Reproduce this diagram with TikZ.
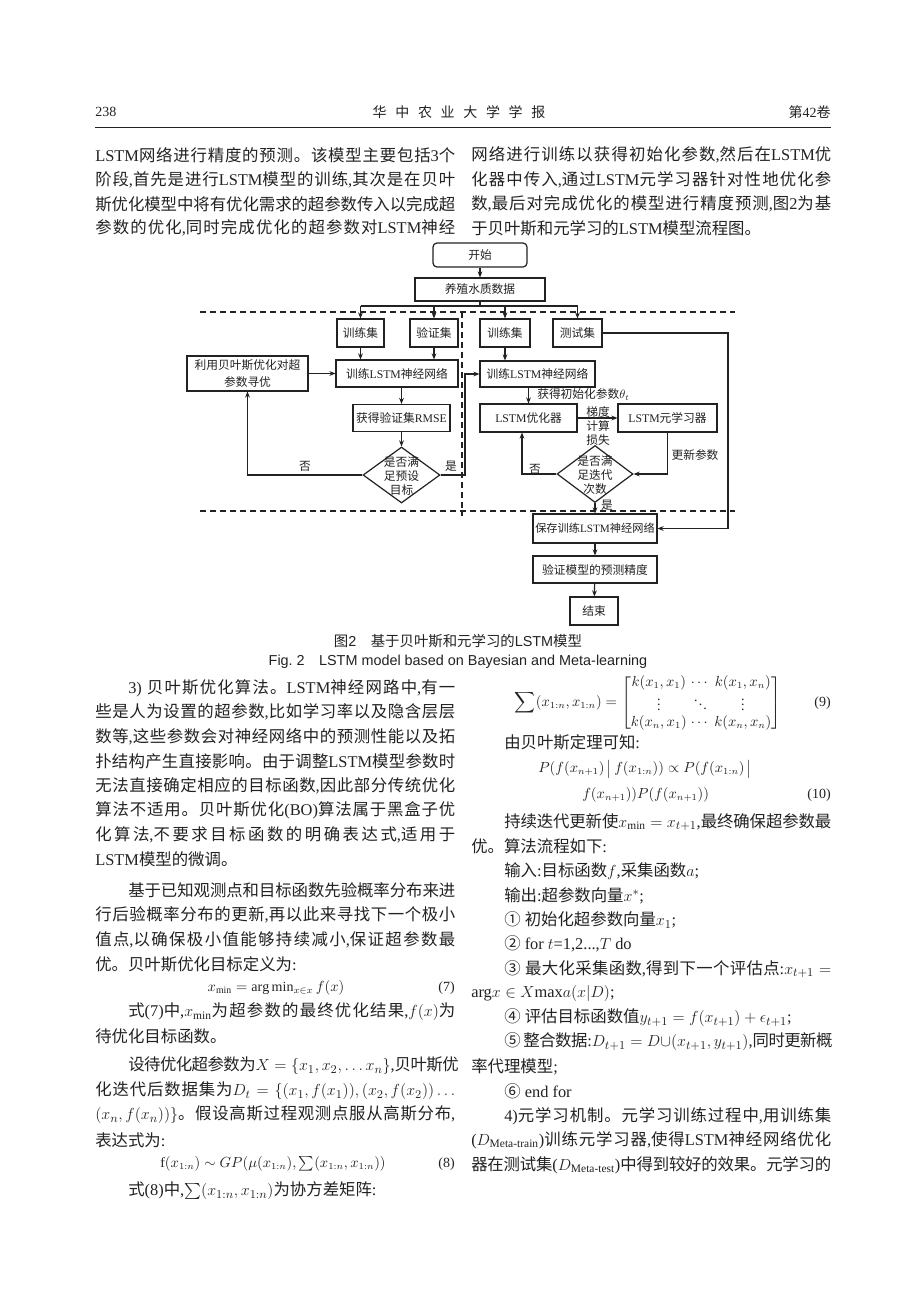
\documentclass[tikz,border=0pt]{standalone}
\usepackage{amsmath}
\usepackage{fontspec}
\setmainfont{Liberation Serif}
\setsansfont{Liberation Sans}
\newfontfamily\cjkfont{Noto Sans CJK SC}
\usetikzlibrary{arrows.meta,shapes.geometric}
% --- automatic CJK font switching via XeTeX character classes ---
\XeTeXinterchartokenstate=1
\newcount\cjkcnt
\newcommand\setcjkclass[2]{\cjkcnt=#1\relax
  \loop\XeTeXcharclass\cjkcnt=7\relax\advance\cjkcnt by 1\relax
  \ifnum\cjkcnt<#2\relax\repeat}
\setcjkclass{"4E00}{"A000}
\setcjkclass{"3000}{"3040}
\setcjkclass{"FF00}{"FFF0}
\setcjkclass{"2460}{"2500}
\def\curlat{\rmfamily}
\XeTeXinterchartoks 0 7 = {\cjkfont}
\XeTeXinterchartoks 1 7 = {\cjkfont}
\XeTeXinterchartoks 2 7 = {\cjkfont}
\XeTeXinterchartoks 3 7 = {\cjkfont}
\XeTeXinterchartoks 4095 7 = {\cjkfont}
\XeTeXinterchartoks 7 0 = {\curlat}
\XeTeXinterchartoks 7 1 = {\curlat}
\XeTeXinterchartoks 7 2 = {\curlat}
\XeTeXinterchartoks 7 3 = {\curlat}
\XeTeXinterchartoks 7 4095 = {\curlat}
\XeTeXinterchartoks 7 7 = {\hskip 0pt plus 2pt minus 0.4pt\relax}
% --- sizes ---
\newdimen\px \px=0.75pt
\newcommand\bodysize{\fontsize{12.3}{14}\selectfont}
\newcommand\flowsize{\fontsize{8.8}{12.75}\selectfont}
\newcommand\diasize{\fontsize{8.8}{10.5}\selectfont}
\newcommand\hdsize{\fontsize{10.5}{12}\selectfont}
\newcommand\capsize{\fontsize{10.8}{13}\selectfont}
\newcommand\eqsize{\fontsize{10.5}{12.6}\selectfont}
\definecolor{ink}{HTML}{222222}
\newcommand\jtext[4]{\node[body] (#1) at (#2) {\hbox to #3\px{#4}};}
\newcommand\ntext[3]{\node[body] (#1) at (#2) {#3};}
\tikzset{
  body/.style={inner sep=0pt, anchor=west, font=\bodysize, text=ink},
  box/.style={draw=ink, line width=0.9pt, inner sep=0pt, font=\flowsize, text=ink, align=center},
  dia/.style={draw=ink, line width=0.9pt, diamond, inner sep=0pt},
  lbl/.style={inner sep=0pt, font=\diasize, text=ink, align=center},
  arr/.style={draw=ink, line width=0.9pt, -{Stealth[length=4.5pt,width=3.6pt]}},
  ln/.style={draw=ink, line width=0.9pt},
  dsh/.style={draw=ink, line width=0.9pt, dash pattern=on 4.5pt off 3pt},
}
\begin{document}
\begin{tikzpicture}[x=0.75pt,y=-0.75pt]
\fill[white] (0,0) rectangle (920,1302);
\useasboundingbox (0,0) rectangle (920,1302);
% header
\node[inner sep=0pt, anchor=west, font=\hdsize, text=ink] (pg) at (95,112) {238};
\node[inner sep=0pt, font=\hdsize, text=ink] (jname) at (459,112) {华\hspace{6.5pt}中\hspace{6.5pt}农\hspace{6.5pt}业\hspace{6.5pt}大\hspace{6.5pt}学\hspace{6.5pt}学\hspace{6.5pt}报};
\node[inner sep=0pt, anchor=east, font=\hdsize, text=ink] (vol) at (831,112) {第42卷};
\coordinate (r1) at (95,127); \coordinate (r2) at (831,127);
\draw[ink, line width=0.6pt] (r1) -- (r2);
% top text
\jtext{a1}{95,155}{360}{LSTM网络进行精度的预测。该模型主要包括3个}
\jtext{a2}{95,180}{360}{阶段,首先是进行LSTM模型的训练,其次是在贝叶}
\jtext{a3}{95,204}{360}{斯优化模型中将有优化需求的超参数传入以完成超}
\jtext{a4}{95,228}{360}{参数的优化,同时完成优化的超参数对LSTM神经}
\jtext{b1}{471,155}{360}{网络进行训练以获得初始化参数,然后在LSTM优}
\jtext{b2}{471,180}{360}{化器中传入,通过LSTM元学习器针对性地优化参}
\jtext{b3}{471,204}{360}{数,最后对完成优化的模型进行精度预测,图2为基}
\ntext{b4}{471,228}{于贝叶斯和元学习的LSTM模型流程图。}
% ---------------- flowchart ----------------
\node[box, rounded corners=4\px, minimum width=94\px, minimum height=24\px] (start) at (480,255) {开始};
\node[box, minimum width=130\px, minimum height=23\px] (data) at (480,289.5) {养殖水质数据};
\node[box, minimum width=47\px, minimum height=28\px] (trA) at (360.5,333) {训练集};
\node[box, minimum width=48\px, minimum height=28\px] (val) at (434,333) {验证集};
\node[box, minimum width=50\px, minimum height=28\px] (trB) at (505,333) {训练集};
\node[box, minimum width=49\px, minimum height=28\px] (tst) at (577.5,333) {测试集};
\node[box, minimum width=122\px, minimum height=27\px] (lsA) at (397,373.5) {训练LSTM神经网络};
\node[box, minimum width=121\px, minimum height=35\px] (bay) at (247.5,373.5) {利用贝叶斯优化对超\\参数寻优};
\node[box, minimum width=97\px, minimum height=27\px] (rmse) at (401.5,418) {获得验证集RMSE};
\node[dia, minimum width=77\px, minimum height=56\px] (d1) at (401.5,475) {};
\node[lbl] (d1t) at (401.5,476) {是否满\\足预设\\目标};
\node[box, minimum width=115\px, minimum height=26\px] (lsB) at (537.5,374) {训练LSTM神经网络};
\node[box, minimum width=97\px, minimum height=28\px] (opt) at (528.5,418) {LSTM优化器};
\node[box, minimum width=99\px, minimum height=28\px] (meta) at (667.5,418) {LSTM元学习器};
\node[dia, minimum width=76\px, minimum height=57\px] (d2) at (595,474) {};
\node[lbl] (d2t) at (595,475) {是否满\\足迭代\\次数};
\node[box, minimum width=124\px, minimum height=29\px, font=\fontsize{8.4}{10}\selectfont] (save) at (595,528.5) {保存训练LSTM神经网络};
\node[box, minimum width=124\px, minimum height=27\px] (ver) at (595,569.5) {验证模型的预测精度};
\node[box, minimum width=48\px, minimum height=28\px] (fin) at (594,611) {结束};
% labels
\node[lbl] (no1) at (305,466) {否};
\node[lbl] (yes1) at (451,466) {是};
\node[lbl, anchor=west] (theta) at (537,394.5) {获得初始化参数$\theta_t$};
\node[lbl] (grad) at (598,426) {梯度\\计算\\损失};
\node[lbl] (no2) at (535,469) {否};
\node[lbl] (upd) at (695,455) {更新参数};
\node[lbl] (yes2) at (607,505) {是};
% connectors
\coordinate (br) at (480,306);
\draw[arr] (start) -- (data);
\draw[ln] (data.south) -- (br);
\draw[ln] (br -| trA) -- (br -| tst);
\draw[arr] (br -| trA) -- (trA.north);
\draw[arr] (br -| val) -- (val.north);
\draw[arr] (br -| trB) -- (trB.north);
\draw[arr] (br -| tst) -- (tst.north);
\draw[arr] (trA.south) -- (trA.south |- lsA.north);
\draw[arr] (val.south) -- (val.south |- lsA.north);
\draw[arr] (bay.east) -- (bay.east -| lsA.west);
\draw[arr] (lsA.south -| rmse) -- (rmse.north);
\draw[arr] (rmse.south) -- (d1.north);
\draw[arr] (d1.west) -| (bay.south);
\coordinate (jy) at (465,475);
\draw[arr] (d1.east) -- (jy) |- (lsB.west);
\draw[arr] (trB.south) -- (trB.south |- lsB.north);
\draw[arr] (lsB.south -| opt) -- (opt.north);
\draw[arr] (opt.east) -- (meta.west);
\draw[arr] (meta.south) |- (d2.east);
\coordinate (jn) at (522,474);
\draw[arr] (d2.west) -- (jn) -- (jn |- opt.south);
\draw[arr] (d2.south) -- (save.north);
\coordinate (jt) at (728,333);
\draw[arr] (tst.east) -- (jt) |- (save.east);
\draw[arr] (save) -- (ver);
\draw[arr] (ver) -- (fin);
% dashed separators
\coordinate (dl1) at (200,312); \coordinate (dr1) at (735,312);
\coordinate (dl2) at (200,511); \coordinate (dr2) at (735,511);
\coordinate (dv1) at (462,312); \coordinate (dv2) at (462,516);
\draw[dsh] (dl1) -- (dr1);
\draw[dsh] (dl2) -- (dr2);
\draw[dsh] (dv1) -- (dv2);
% captions
\node[inner sep=0pt, font=\capsize, text=ink] (cap1) at (458,641) {\def\curlat{\sffamily}\sffamily 图2\hspace{1em}基于贝叶斯和元学习的LSTM模型};
\node[inner sep=0pt, font=\capsize, text=ink] (cap2) at (458,662) {\sffamily Fig.~2\hspace{1em}LSTM model based on Bayesian and Meta-learning};
% ---------------- lower left column ----------------
\jtext{c1}{128,688}{327}{3) 贝叶斯优化算法。LSTM神经网路中,有一}
\jtext{c2}{95,712}{360}{些是人为设置的超参数,比如学习率以及隐含层层}
\jtext{c3}{95,737}{360}{数等,这些参数会对神经网络中的预测性能以及拓}
\jtext{c4}{95,761}{360}{扑结构产生直接影响。由于调整LSTM模型参数时}
\jtext{c5}{95,786}{360}{无法直接确定相应的目标函数,因此部分传统优化}
\jtext{c6}{95,810}{360}{算法不适用。贝叶斯优化(BO)算法属于黑盒子优}
\jtext{c7}{95,835}{360}{化算法,不要求目标函数的明确表达式,适用于}
\ntext{c8}{95,859}{LSTM模型的微调。}
\jtext{c9}{128,890}{327}{基于已知观测点和目标函数先验概率分布来进}
\jtext{c10}{95,915}{360}{行后验概率分布的更新,再以此来寻找下一个极小}
\jtext{c11}{95,940}{360}{值点,以确保极小值能够持续减小,保证超参数最}
\ntext{c12}{95,964}{优。贝叶斯优化目标定义为:}
\node[inner sep=0pt, font=\eqsize, text=ink] (eq7) at (276,988) {$x_{\min}=\arg\min_{x\in x} f(x)$};
\node[inner sep=0pt, anchor=east, font=\eqsize, text=ink] (n7) at (455,988) {(7)};
\jtext{c13}{128,1012}{327}{式(7)中,$x_{\min}$为超参数的最终优化结果,$f(x)$为}
\ntext{c14}{95,1036}{待优化目标函数。}
\jtext{c15}{128,1066}{327}{设待优化超参数为$X=\{x_1,x_2,\ldots x_n\}$,贝叶斯优}
\jtext{c16}{95,1091}{360}{化迭代后数据集为$D_t=\{(x_1,f(x_1)),(x_2,f(x_2))\ldots$}
\jtext{c17}{95,1115}{360}{$(x_n,f(x_n))\}$。假设高斯过程观测点服从高斯分布,}
\ntext{c18}{95,1140}{表达式为:}
\node[inner sep=0pt, font=\eqsize, text=ink] (eq8) at (273,1164) {f$(x_{1:n})\sim GP(\mu(x_{1:n}),\textstyle\sum(x_{1:n},x_{1:n}))$};
\node[inner sep=0pt, anchor=east, font=\eqsize, text=ink] (n8) at (455,1164) {(8)};
\ntext{c19}{128,1191}{式(8)中,{\large$\textstyle\sum$}$(x_{1:n},x_{1:n})$为协方差矩阵:}
% ---------------- lower right column ----------------
\node[inner sep=0pt, font=\eqsize, text=ink] (eq9) at (648,703) {\renewcommand\arraystretch{0.9}$\displaystyle\sum(x_{1:n},x_{1:n})=\left[\begin{array}{@{}c@{\;}c@{\;}c@{}}k(x_1,x_1)&\cdots&k(x_1,x_n)\\ {\scriptstyle\vdots}&{\scriptstyle\ddots}&{\scriptstyle\vdots}\\ k(x_n,x_1)&\cdots&k(x_n,x_n)\end{array}\right]$};
\node[inner sep=0pt, anchor=east, font=\eqsize, text=ink] (n9) at (831,703) {(9)};
\ntext{d1}{504,742}{由贝叶斯定理可知:}
\node[inner sep=0pt, anchor=west, font=\eqsize, text=ink] (eq10a) at (538,769) {$P(f(x_{n+1})\,\big|\,f(x_{1:n}))\propto P(f(x_{1:n})\,\big|$};
\node[inner sep=0pt, anchor=west, font=\eqsize, text=ink] (eq10b) at (582,795) {$f(x_{n+1}))P(f(x_{n+1}))$};
\node[inner sep=0pt, anchor=east, font=\eqsize, text=ink] (n10) at (831,795) {(10)};
\jtext{d2}{504,822}{327}{持续迭代更新使$x_{\min}=x_{t+1}$,最终确保超参数最}
\ntext{d3}{471,846}{优。算法流程如下:}
\ntext{d4}{504,871}{输入:目标函数$f$,采集函数$a$;}
\ntext{d5}{504,896}{输出:超参数向量$x^*$;}
\ntext{d6}{504,920}{① 初始化超参数向量$x_1$;}
\ntext{d7}{504,944}{② for $t$=1,2...,$T$ do}
\jtext{d8}{504,969}{327}{③ 最大化采集函数,得到下一个评估点:$x_{t+1}=$}
\ntext{d9}{471,993}{arg$x\in X$max$a(x|D)$;}
\ntext{d10}{504,1018}{④ 评估目标函数值$y_{t+1}=f(x_{t+1})+\epsilon_{t+1}$;}
\jtext{d11}{504,1042}{327}{⑤ 整合数据:$D_{t+1}=D\cup(x_{t+1},y_{t+1})$,同时更新概}
\ntext{d12}{471,1067}{率代理模型;}
\ntext{d13}{504,1091}{⑥ end for}
\jtext{d14}{504,1116}{327}{4)元学习机制。元学习训练过程中,用训练集}
\jtext{d15}{471,1140}{360}{($D_{\text{Meta-train}}$)训练元学习器,使得LSTM神经网络优化}
\jtext{d16}{471,1165}{360}{器在测试集($D_{\text{Meta-test}}$)中得到较好的效果。元学习的}
\end{tikzpicture}
\end{document}
